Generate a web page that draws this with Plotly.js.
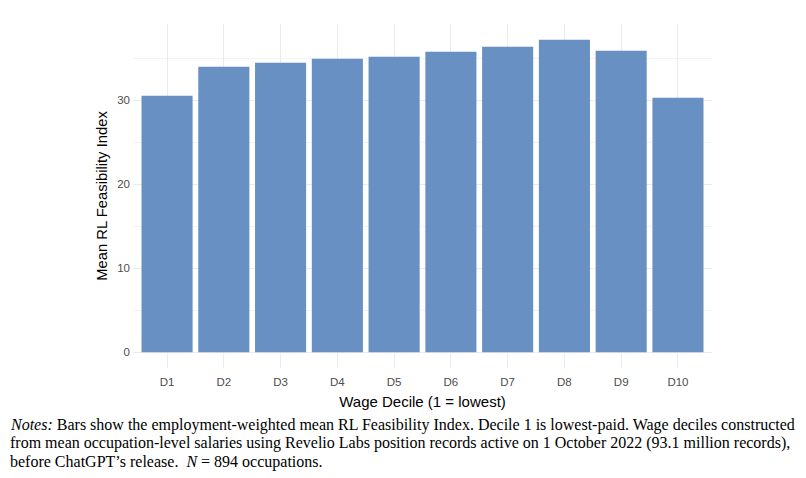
<!DOCTYPE html>
<html>
<head>
<meta charset="utf-8">
<script src="https://cdn.plot.ly/plotly-3.0.1.min.js"></script>
<style>
  html, body { margin: 0; padding: 0; background: #ffffff; }
  #chart { width: 806px; height: 478px; }
</style>
</head>
<body>
<div id="chart"></div>
<script>
// Wage deciles and the employment-weighted mean RL Feasibility Index per decile
const deciles = ["D1", "D2", "D3", "D4", "D5", "D6", "D7", "D8", "D9", "D10"];
const meanIndex = [30.56, 34.0, 34.49, 34.96, 35.2, 35.8, 36.39, 37.23, 35.92, 30.32];
const yTicks = [0, 10, 20, 30];

// Footnote, one entry per printed line
const noteLines = [
  "<i>Notes:</i> Bars show the employment-weighted mean RL Feasibility Index. Decile 1 is lowest-paid. Wage deciles constructed",
  "from mean occupation-level salaries using Revelio Labs position records active on 1 October 2022 (93.1 million records),",
  "before ChatGPT\u2019s release.  <i>N</i> = 894 occupations."
];

const barColor = "rgb(105,144,194)";
const gridColor = "#ebebeb";
const sansFont = "Liberation Sans, Arial, sans-serif";
const serifFont = "Liberation Serif, Times New Roman, serif";

const W = 806, H = 478;
const M = { l: 132.5, r: 94.3, t: 24, b: 110 };
const plotW = W - M.l - M.r;
const plotH = H - M.t - M.b;

const yMax = Math.max(...meanIndex);

const trace = {
  type: "bar",
  x: deciles,
  y: meanIndex,
  marker: { color: barColor, line: { width: 0 } },
  hoverinfo: "x+y"
};

// Footnote lines placed in paper coordinates below the plot area
const noteAnnotations = noteLines.map((line, i) => ({
  xref: "paper", yref: "paper",
  x: (7 - M.l) / plotW,
  y: (H - M.b - (425 + i * 18.4)) / plotH,
  xanchor: "left", yanchor: "middle",
  align: "left",
  showarrow: false,
  text: line,
  font: { family: serifFont, size: 16.0, color: "#000000" }
}));

const layout = {
  width: W,
  height: H,
  margin: M,
  paper_bgcolor: "#ffffff",
  plot_bgcolor: "#ffffff",
  showlegend: false,
  bargap: 0.1,
  font: { family: sansFont, color: "#4d4d4d", size: 11 },
  xaxis: {
    type: "category",
    range: [-0.6, deciles.length - 0.4],
    showgrid: true,
    gridcolor: gridColor,
    gridwidth: 1.1,
    zeroline: false,
    showline: false,
    ticks: "",
    ticklabelstandoff: 5,
    tickfont: { family: sansFont, size: 11.5, color: "#4d4d4d" },
    title: {
      text: "Wage Decile (1 = lowest)",
      font: { family: sansFont, size: 15, color: "#000000" },
      standoff: 9
    },
    fixedrange: true
  },
  yaxis: {
    range: [-0.05 * yMax, yMax * 1.05],
    tickvals: yTicks,
    ticktext: yTicks.map(String),
    showgrid: true,
    gridcolor: gridColor,
    gridwidth: 1.1,
    minor: { dtick: 5, tick0: 0, showgrid: true, gridcolor: gridColor, gridwidth: 0.6, ticks: "" },
    zeroline: false,
    showline: false,
    ticks: "",
    ticklabelstandoff: 2,
    tickfont: { family: sansFont, size: 11.5, color: "#4d4d4d" },
    title: {
      text: "Mean RL Feasibility Index",
      font: { family: sansFont, size: 14.8, color: "#000000" },
      standoff: 6
    },
    fixedrange: true
  },
  annotations: noteAnnotations
};

Plotly.newPlot("chart", [trace], layout, { displayModeBar: false, staticPlot: true });
</script>
</body>
</html>
